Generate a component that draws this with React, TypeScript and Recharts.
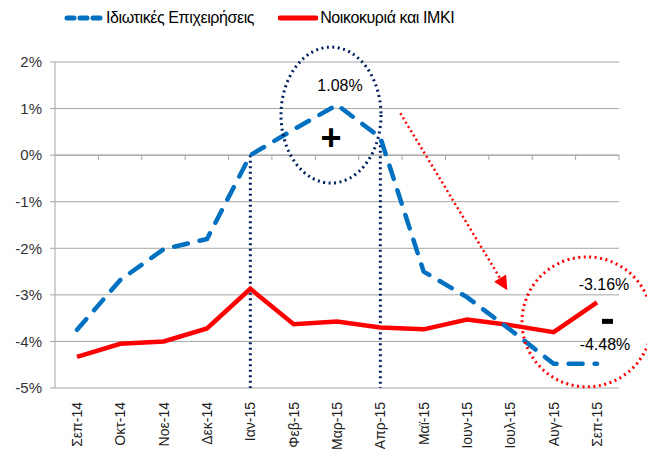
import { LineChart, Line, XAxis, YAxis, CartesianGrid, Legend, ReferenceLine, ReferenceDot } from 'recharts';

const months = ['Σεπ-14', 'Οκτ-14', 'Νοε-14', 'Δεκ-14', 'Ιαν-15', 'Φεβ-15', 'Μαρ-15', 'Απρ-15', 'Μαϊ-15', 'Ιουν-15', 'Ιουλ-15', 'Αυγ-15', 'Σεπ-15'];
const businesses = [-3.75, -2.68, -2.02, -1.8, 0.0, 0.55, 1.08, 0.38, -2.5, -3.05, -3.75, -4.48, -4.48];
const households = [-4.33, -4.05, -4.0, -3.72, -2.87, -3.63, -3.57, -3.7, -3.74, -3.53, -3.65, -3.8, -3.16];
const yTicks = [-5, -4, -3, -2, -1, 0, 1, 2];

const BLUE = '#0070C0';
const RED = '#FF0000';
const NAVY = '#002060';
const FONT = '"Liberation Sans Narrow", "Arial Narrow", "Liberation Sans", Arial, sans-serif';

const data = months.map((m, i) => ({ month: m, businesses: businesses[i], households: households[i] }));

const MonthTick = (props: any) => {
  const { x, y, payload } = props;
  return (
    <text
      transform={`translate(${x},${y + 6}) rotate(-90)`}
      textAnchor="end"
      dominantBaseline="central"
      fontSize={14}
      fill="#222"
      fontFamily={FONT}
    >
      {payload.value}
    </text>
  );
};

// zero line with the category boundary tick marks (Excel axis crosses at 0)
const ZeroAxis = (props: any) => {
  const { x1, x2, y1 } = props;
  const step = (x2 - x1) / months.length;
  return (
    <g>
      <line x1={x1} x2={x2} y1={y1} y2={y1} stroke="#A6A6A6" strokeWidth={1} />
      {months.map((_, i) => (
        <line key={i} x1={x1 + step * (i + 1)} x2={x1 + step * (i + 1)} y1={y1} y2={y1 + 5} stroke="#A6A6A6" />
      ))}
    </g>
  );
};

const Arrow = (props: any) => {
  const { x1, y1, x2, y2 } = props;
  const sx = x1 + 20;
  const ex = x2 - 3;
  const ang = Math.atan2(y2 - y1, ex - sx);
  const hx = ex - Math.cos(ang) * 14;
  const hy = y2 - Math.sin(ang) * 14;
  const px = -Math.sin(ang) * 7;
  const py = Math.cos(ang) * 7;
  return (
    <g>
      <line x1={sx} y1={y1} x2={hx} y2={hy} stroke={RED} strokeWidth={2.5} strokeDasharray="2 3" />
      <polygon points={`${ex},${y2} ${hx + px},${hy + py} ${hx - px},${hy - py}`} fill={RED} />
    </g>
  );
};

const PlusEllipse = (props: any) => {
  const { cx, cy } = props;
  return (
    <g>
      <ellipse cx={cx - 6} cy={cy} rx={50} ry={68} fill="none" stroke={NAVY} strokeWidth={3} strokeDasharray="2 3.5" />
      <text x={cx - 6} y={cy + 22} textAnchor="middle" dominantBaseline="central" fontSize={36} fontWeight="bold" fontFamily="Arial, sans-serif" fill="#000">+</text>
    </g>
  );
};

const MinusCircle = (props: any) => {
  const { cx, cy } = props;
  return (
    <g>
      <circle cx={cx - 10} cy={cy} r={65} fill="none" stroke={RED} strokeWidth={3} strokeDasharray="2 3.5" />
      <rect x={cx + 5} y={cy - 3} width={11} height={5} fill="#000" />
    </g>
  );
};

const LegendContent = () => (
  <div style={{ display: 'flex', alignItems: 'center', fontFamily: FONT, fontSize: 16, color: '#000', paddingLeft: 63 }}>
    <svg width={42} height={10}>
      <line x1={4} x2={40} y1={5} y2={5} stroke={BLUE} strokeWidth={5} strokeDasharray="7 6" strokeLinecap="round" />
    </svg>
    <span style={{ marginLeft: 1, letterSpacing: -0.4 }}>Ιδιωτικές Επιχειρήσεις</span>
    <svg width={40} height={10} style={{ marginLeft: 24 }}>
      <line x1={2} x2={38} y1={5} y2={5} stroke={RED} strokeWidth={5} strokeLinecap="round" />
    </svg>
    <span style={{ marginLeft: 2, letterSpacing: -0.4 }}>Νοικοκυριά και ΙΜΚΙ</span>
  </div>
);

export default function App() {
  return (
    <div style={{ position: 'absolute', left: 0, top: 0, background: '#fff' }}>
      <LineChart width={647} height={461} data={data} margin={{ top: 44, right: 28, bottom: 0, left: 10 }}>
        <CartesianGrid vertical={false} stroke="#A6A6A6" />
        <XAxis
          dataKey="month"
          axisLine={false}
          tickLine={false}
          tick={<MonthTick />}
          height={73}
          interval={0}
          padding={{ left: 22, right: 22 }}
        />
        <YAxis
          domain={[-5, 2]}
          ticks={yTicks}
          width={45}
          tickFormatter={(v) => `${v}%`}
          axisLine={{ stroke: '#A6A6A6' }}
          tickLine={{ stroke: '#A6A6A6' }}
          tickSize={5}
          tick={{ fontSize: 15, fill: '#333', fontFamily: FONT, dx: -6 }}
        />
        <Legend verticalAlign="top" content={<LegendContent />} wrapperStyle={{ top: 9, left: 0, width: 647 }} />
        <ReferenceLine y={0} shape={<ZeroAxis />} />
        <ReferenceLine segment={[{ x: 'Ιαν-15', y: 0 }, { x: 'Ιαν-15', y: -5 }]} stroke={NAVY} strokeWidth={3} strokeDasharray="2 3.5" />
        <ReferenceLine segment={[{ x: 'Απρ-15', y: 0.33 }, { x: 'Απρ-15', y: -5 }]} stroke={NAVY} strokeWidth={3} strokeDasharray="2 3.5" />
        <ReferenceLine segment={[{ x: 'Απρ-15', y: 0.9 }, { x: 'Ιουλ-15', y: -2.9 }]} shape={<Arrow />} />
        <Line
          type="linear"
          dataKey="households"
          stroke={RED}
          strokeWidth={4.5}
          dot={false}
          isAnimationActive={false}
          legendType="none"
        />
        <Line
          type="linear"
          dataKey="businesses"
          stroke={BLUE}
          strokeWidth={4.5}
          strokeDasharray="14 12"
          strokeLinecap="round"
          dot={false}
          isAnimationActive={false}
          legendType="none"
        />
        <ReferenceDot x="Μαρ-15" y={0.86} r={0} shape={<PlusEllipse />} />
        <ReferenceDot x="Σεπ-15" y={-3.58} r={0} shape={<MinusCircle />} />
        <ReferenceDot
          x="Μαρ-15"
          y={1.08}
          r={0}
          label={{ value: '1.08%', position: 'top', offset: 14, fontSize: 16, fill: '#000', fontFamily: FONT, dx: 3 }}
        />
        <ReferenceDot
          x="Σεπ-15"
          y={-3.16}
          r={0}
          label={{ value: '-3.16%', position: 'top', offset: 12, fontSize: 16, fill: '#000', fontFamily: FONT, dx: 7 }}
        />
        <ReferenceDot
          x="Σεπ-15"
          y={-4.48}
          r={0}
          label={{ value: '-4.48%', position: 'top', offset: 14, fontSize: 16, fill: '#000', fontFamily: FONT, dx: 8 }}
        />
      </LineChart>
    </div>
  );
}
